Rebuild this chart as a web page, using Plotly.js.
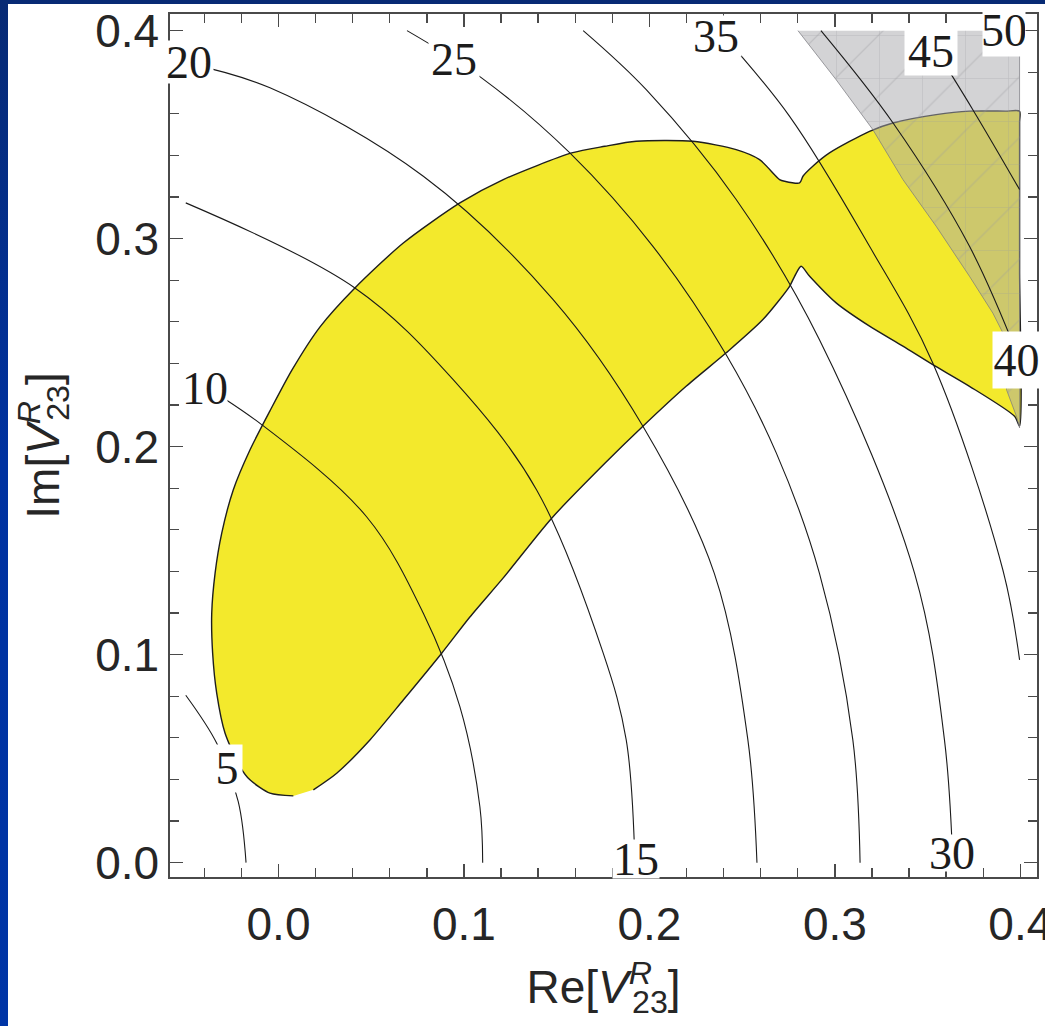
<!DOCTYPE html>
<html>
<head>
<meta charset="utf-8">
<script src="https://cdn.plot.ly/plotly-3.0.1.min.js"></script>
<style>
  html, body { margin: 0; padding: 0; }
  body {
    width: 1045px; height: 1026px; overflow: hidden; position: relative;
    background: linear-gradient(180deg, #072a74 0%, #0032a0 45%, #0035a6 100%);
  }
  #chart { position: absolute; left: 8px; top: 4px; width: 1037px; height: 1022px; background: #fff; }
</style>
</head>
<body>
<div id="chart"></div>
<script>
// Contour levels of the observable
const levels = [5, 10, 15, 20, 25, 30, 35, 40, 45, 50];

// Contour lines, one (x, y) pair per level
const c5x  = [-0.05, -0.0333, -0.0217, -0.0175];
const c5y  = [0.0805, 0.0574, 0.0293, 0.0];
const c10x = [-0.05, -0.0091, 0.0475, 0.0781, 0.0978, 0.1086, 0.1101];
const c10y = [0.2347, 0.2106, 0.1663, 0.1199, 0.0750, 0.0269, 0.0];
const c15x = [-0.05, 0.0412, 0.0942, 0.1392, 0.1751, 0.1875, 0.1922];
const c15y = [0.3172, 0.2763, 0.2322, 0.1792, 0.1007, 0.0590, 0.0];
const c20x = [-0.05, -0.0046, 0.0781, 0.1481, 0.1965, 0.2350, 0.2531, 0.2580];
const c20y = [0.3845, 0.3725, 0.3300, 0.2707, 0.2098, 0.1391, 0.0590, 0.0];
const c25x = [0.0693, 0.1095, 0.1571, 0.2019, 0.2414, 0.2684, 0.2917, 0.3097, 0.3136];
const c25y = [0.4, 0.3773, 0.3412, 0.2963, 0.2442, 0.1970, 0.1391, 0.0590, 0.0];
const c30x = [0.1643, 0.1983, 0.2468, 0.2917, 0.3430, 0.3591, 0.3636];
const c30y = [0.4, 0.3716, 0.3188, 0.2514, 0.1391, 0.0590, 0.0];
const c35x = [0.2375, 0.2756, 0.3187, 0.3528, 0.3906, 0.3996];
const c35y = [0.4, 0.3588, 0.2963, 0.2402, 0.1407, 0.0975];
const c40x = [0.2925, 0.3313, 0.3726, 0.3996];
const c40y = [0.4, 0.3557, 0.2963, 0.2417];
const c45x = [0.3480, 0.3744, 0.3996];
const c45y = [0.4, 0.3620, 0.3236];
const c50x = [0.3935, 0.3966, 0.3996];
const c50y = [0.4, 0.3958, 0.3915];

// Allowed region (yellow)
const regionX = [0.0080, -0.0046, -0.0154, -0.0208, -0.0288, -0.0333, -0.0355, -0.0360, -0.0342, -0.0306,
  -0.0244, -0.0154, -0.0046, 0.0073, 0.0224, 0.0412, 0.0673, 0.0978, 0.1212, 0.1581,
  0.1760, 0.1929, 0.2235, 0.2468, 0.2594, 0.2702, 0.2729, 0.2810, 0.2828, 0.2881,
  0.2971, 0.3187, 0.3313, 0.3546, 0.3726, 0.3920, 0.3996, 0.3996, 0.3996, 0.3996, 0.3969, 0.3726, 0.3528,
  0.3367, 0.3187, 0.3007, 0.2864, 0.2818, 0.2783, 0.2756, 0.2612, 0.2414, 0.2198,
  0.1965, 0.1760, 0.1473, 0.1212, 0.1032, 0.0880, 0.0673, 0.0493, 0.0314, 0.0188];
const regionY = [0.0321, 0.0334, 0.0398, 0.0462, 0.0622, 0.0814, 0.1007, 0.1199, 0.1391, 0.1584,
  0.1792, 0.1984, 0.2172, 0.2369, 0.2576, 0.2763, 0.2979, 0.3172, 0.3284, 0.3412,
  0.3444, 0.3468, 0.3468, 0.3428, 0.3380, 0.3284, 0.3276, 0.3268, 0.3300, 0.3348,
  0.3412, 0.3516, 0.3556, 0.3596, 0.3613, 0.3613, 0.3613, 0.3560, 0.2850, 0.2100, 0.2146, 0.2290, 0.2394,
  0.2483, 0.2579, 0.2691, 0.2819, 0.2867, 0.2819, 0.2771, 0.2611, 0.2451, 0.2290,
  0.2098, 0.1920, 0.1656, 0.1369, 0.1181, 0.1007, 0.0782, 0.0590, 0.0430, 0.0350];

// Excluded region (grey)
const excludedX = [0.2801, 0.3007, 0.3205, 0.3367, 0.3546, 0.3726, 0.3852, 0.3906, 0.3926, 0.3980, 0.3996, 0.3996];
const excludedY = [0.4, 0.3764, 0.3524, 0.3284, 0.3060, 0.2819, 0.2642, 0.2547, 0.2273, 0.2144, 0.2090, 0.4];

// Axis ticks
const xTickVals = [0, 0.1, 0.2, 0.3, 0.4];
const xTickText = ['0.0', '0.1', '0.2', '0.3', '0.4'];
const yTickVals = [0, 0.1, 0.2, 0.3, 0.4];
const yTickText = ['0.0', '0.1', '0.2', '0.3', '0.4'];

const contourX = [c5x, c10x, c15x, c20x, c25x, c30x, c35x, c40x, c45x, c50x];
const contourY = [c5y, c10y, c15y, c20y, c25y, c30y, c35y, c40y, c45y, c50y];

// Where each level's label sits: [x, y, box width, box height]
const labelPlacement = [
  [-0.0279, 0.0454, 30, 47],
  [-0.0396, 0.2282, 44, 40],
  [0.1927, 0.0018, 46, 38],
  [-0.0482, 0.3849, 48, 42],
  [0.0946, 0.3864, 50, 42],
  [0.3631, 0.0047, 48, 36],
  [0.2361, 0.3975, 50, 40],
  [0.3978, 0.2417, 47, 56],
  [0.3518, 0.3900, 52, 47],
  [0.3912, 0.4004, 42, 52]
];

const traces = [];

// yellow region with its black outline
traces.push({
  type: 'scatter', mode: 'lines', x: regionX, y: regionY,
  fill: 'toself', fillcolor: '#f3e92c',
  line: { color: '#1e1e1e', width: 1.4, shape: 'spline', smoothing: 0.7 },
  hoverinfo: 'skip', showlegend: false
});

// translucent grey region on top of it
traces.push({
  type: 'scatter', mode: 'lines', x: excludedX, y: excludedY,
  fill: 'toself', fillcolor: 'rgba(168,168,172,0.5)',
  line: { color: 'rgba(120,120,125,0.7)', width: 1 },
  hoverinfo: 'skip', showlegend: false
});

// faint mesh texture inside the grey region
['+', '/'].forEach(shape => {
  traces.push({
    type: 'scatter', mode: 'lines', x: excludedX, y: excludedY,
    fill: 'toself', fillcolor: 'rgba(0,0,0,0)',
    fillpattern: { shape: shape, size: 43, solidity: 0.03, fgcolor: '#9a9a9e', fgopacity: 0.35, bgcolor: 'rgba(0,0,0,0)' },
    line: { width: 0 },
    hoverinfo: 'skip', showlegend: false
  });
});

for (let i = 0; i < levels.length; i++) {
  traces.push({
    type: 'scatter', mode: 'lines', x: contourX[i], y: contourY[i],
    line: { color: '#1a1a1a', width: 1.1, shape: 'spline', smoothing: 1 },
    hoverinfo: 'skip', showlegend: false, name: String(levels[i])
  });
}

const annotations = levels.map((lv, i) => ({
  x: labelPlacement[i][0], y: labelPlacement[i][1], xref: 'x', yref: 'y',
  text: String(lv), showarrow: false,
  xanchor: 'center', yanchor: 'middle',
  width: labelPlacement[i][2], height: labelPlacement[i][3],
  bgcolor: '#ffffff', borderpad: 0,
  font: { family: 'Liberation Serif, Times New Roman, serif', size: 46, color: '#1c1c1c' }
}));

const tickFont = { family: 'Liberation Sans, Arial, sans-serif', size: 46, color: '#262626' };
const titleFont = { family: 'Liberation Sans, Arial, sans-serif', size: 46, color: '#262626' };

const axisCommon = {
  showgrid: false, zeroline: false,
  showline: true, linecolor: '#4a4a4a', linewidth: 1.6, mirror: 'ticks',
  ticks: 'inside', ticklen: 13, tickwidth: 1.4, tickcolor: '#4a4a4a',
  minor: { dtick: 0.02, tick0: 0, ticks: 'inside', ticklen: 9, tickwidth: 1.3, tickcolor: '#4a4a4a', showgrid: false },
  tickfont: tickFont, ticklabeloverflow: 'allow'
};

const layout = {
  width: 1037, height: 1022,
  margin: { l: 162, r: 8, t: 10, b: 149 },
  paper_bgcolor: '#ffffff', plot_bgcolor: '#ffffff',
  showlegend: false, hovermode: false, dragmode: false,
  xaxis: Object.assign({}, axisCommon, {
    range: [-0.0585, 0.409], tickmode: 'array', tickvals: xTickVals, ticktext: xTickText,
    ticklabelstandoff: 6,
    title: {
      text: 'Re[<i>V</i><sup><span style="letter-spacing:-0.62em"><i>R</i></span></sup><sub>23</sub>]',
      font: titleFont, standoff: 22
    }
  }),
  yaxis: Object.assign({}, axisCommon, {
    range: [-0.0069, 0.408], tickmode: 'array', tickvals: yTickVals, ticktext: yTickText,
    ticklabelstandoff: 0,
    title: {
      text: 'Im[<i>V</i><sup><span style="letter-spacing:-0.62em"><i>R</i></span></sup><sub>23</sub>]',
      font: titleFont, standoff: 21
    }
  }),
  annotations: annotations
};

Plotly.newPlot('chart', traces, layout, { displayModeBar: false, staticPlot: true });
</script>
</body>
</html>
